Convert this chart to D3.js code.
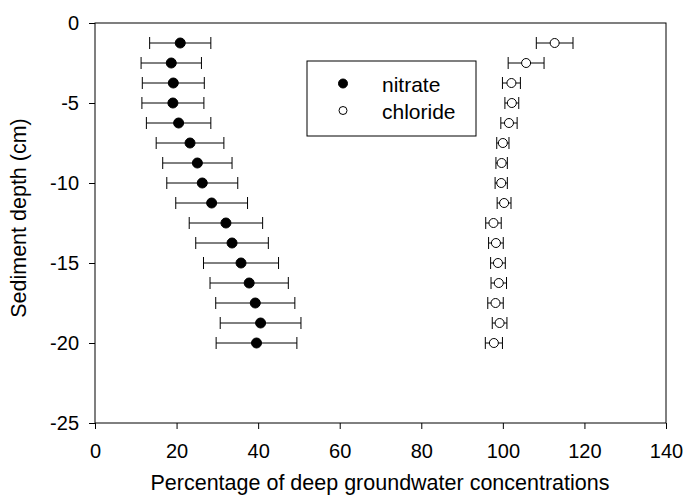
<!DOCTYPE html>
<html>
<head>
<meta charset="utf-8">
<script src="https://cdn.jsdelivr.net/npm/d3@7"></script>
<style>
body{margin:0;background:#fff;}
text{font-family:"Liberation Sans",Arial,sans-serif;}
</style>
</head>
<body>
<div id="plot"></div>
<script>
// depth of each sample (cm)
var depths = [-1.25,-2.5,-3.75,-5,-6.25,-7.5,-8.75,-10,-11.25,-12.5,-13.75,-15,-16.25,-17.5,-18.75,-20];
var nitrateMean = [20.9,18.7,19.2,19.1,20.5,23.3,25.1,26.3,28.6,32.1,33.6,35.8,37.8,39.3,40.6,39.6];
var nitrateErr = [7.5,7.4,7.6,7.6,7.9,8.3,8.5,8.7,8.8,9.0,8.9,9.2,9.6,9.7,9.9,9.9];
var chlorideMean = [112.7,105.7,102.1,102.2,101.5,100.0,99.7,99.6,100.3,97.7,98.3,98.8,99.0,98.2,99.2,97.8];
var chlorideErr = [4.5,4.4,2.2,1.7,2.0,1.5,1.4,1.5,1.7,1.9,1.8,1.8,1.9,1.9,1.8,2.1];
var xTicks = [0,20,40,60,80,100,120,140];
var yTicks = [0,-5,-10,-15,-20,-25];

var W = 688, H = 502;
var margin = {t:23,r:22,b:79,l:95};
var width = W-margin.l-margin.r,
	height = H-margin.t-margin.b;

var svg = d3.select('#plot')
	.append('svg')
	.attr('width',W)
	.attr('height',H);

var plot = svg.append('g')
	.attr('transform','translate('+margin.l+','+margin.t+')');

var x = d3.scaleLinear().domain([0,140]).range([0,width]);
var y = d3.scaleLinear().domain([-25,0]).range([height,0]);

// frame
plot.append('rect')
	.attr('width',width).attr('height',height)
	.style('fill','none').style('stroke','#000').style('stroke-width',1);

// plain hyphen for negatives, like the original
var fmt = function(d){ return String(d); };

var xAxis = plot.append('g')
	.attr('transform','translate(0,'+height+')')
	.call(d3.axisBottom(x).tickValues(xTicks).tickSize(6).tickPadding(15).tickFormat(fmt));
var yAxis = plot.append('g')
	.call(d3.axisLeft(y).tickValues(yTicks).tickSize(6).tickPadding(10).tickFormat(fmt));

[xAxis,yAxis].forEach(function(a){
	a.select('.domain').remove();
	a.selectAll('text').style('font-size','20px').style('fill','#000').attr('font-family','Liberation Sans, Arial, sans-serif');
	a.selectAll('line').style('stroke','#000');
});

function drawSeries(means, errs, filled){
	var g = plot.append('g');
	depths.forEach(function(d,i){
		var cy = y(d);
		var x0 = x(means[i]-errs[i]), x1 = x(means[i]+errs[i]);
		g.append('line').attr('x1',x0).attr('x2',x1).attr('y1',cy).attr('y2',cy)
			.style('stroke','#000').style('stroke-width',1);
		g.append('line').attr('x1',x0).attr('x2',x0).attr('y1',cy-6).attr('y2',cy+6)
			.style('stroke','#000').style('stroke-width',1);
		g.append('line').attr('x1',x1).attr('x2',x1).attr('y1',cy-6).attr('y2',cy+6)
			.style('stroke','#000').style('stroke-width',1);
		g.append('circle').attr('cx',x(means[i])).attr('cy',cy).attr('r',filled?5:4.5)
			.style('fill',filled?'#000':'#fff').style('stroke','#000').style('stroke-width',1);
	});
}
drawSeries(nitrateMean,nitrateErr,true);
drawSeries(chlorideMean,chlorideErr,false);

// legend
var lg = svg.append('g').attr('transform','translate(307,61)');
lg.append('rect').attr('width',169).attr('height',75)
	.style('fill','#fff').style('stroke','#000').style('stroke-width',1);
lg.append('circle').attr('cx',36).attr('cy',22.5).attr('r',4.5).style('fill','#000').style('stroke','#000');
lg.append('circle').attr('cx',36).attr('cy',49.5).attr('r',4).style('fill','#fff').style('stroke','#000');
lg.append('text').attr('x',75).attr('y',30.5).style('font-size','21px').text('nitrate');
lg.append('text').attr('x',75).attr('y',58).style('font-size','21px').text('chloride');

// axis titles
svg.append('text')
	.attr('x',380).attr('y',490)
	.attr('text-anchor','middle').style('font-size','21.5px')
	.text('Percentage of deep groundwater concentrations');
svg.append('text')
	.attr('transform','translate(26,'+(margin.t+height/2-5)+') rotate(-90)')
	.attr('text-anchor','middle').style('font-size','21.5px')
	.text('Sediment depth (cm)');
</script>
</body>
</html>
